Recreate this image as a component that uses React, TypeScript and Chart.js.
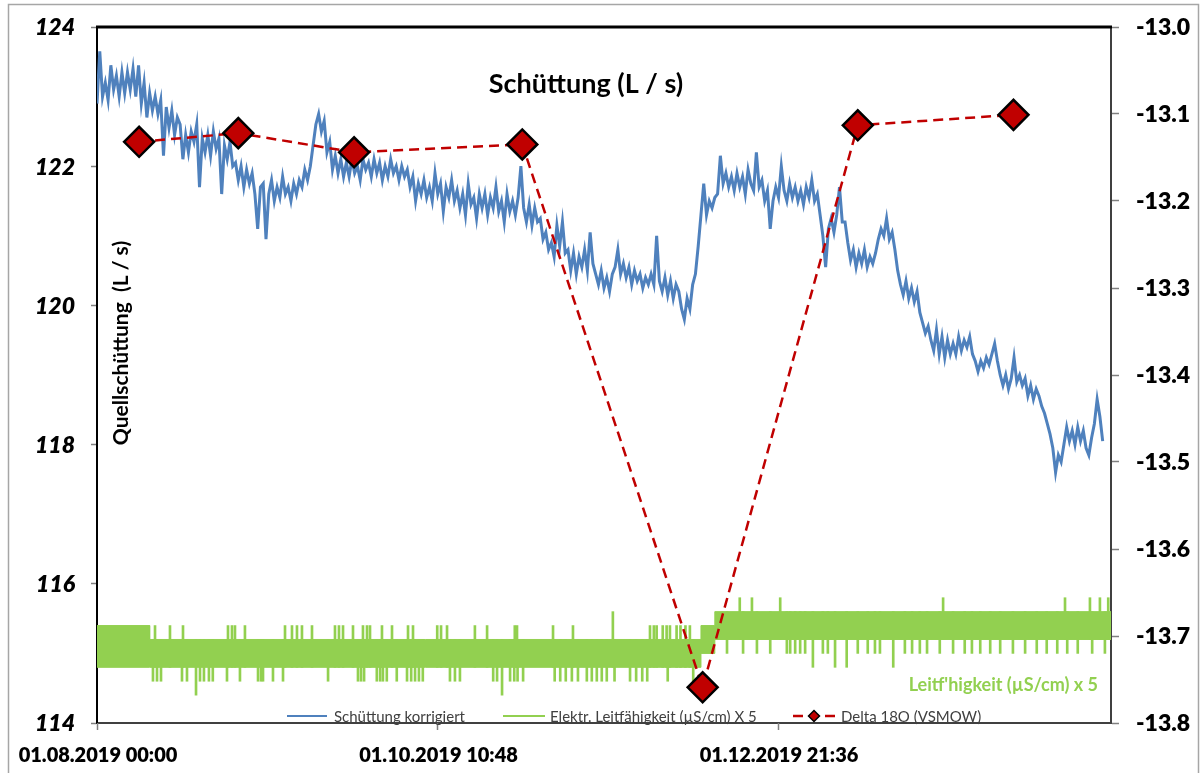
import React, { useEffect, useRef } from 'react';
import { Chart, registerables } from 'chart.js';

Chart.register(...registerables);

const W = 1203;
const H = 773;
const FONT = "Lato, 'Open Sans', sans-serif";

// X axis: days since 01.08.2019 00:00
const xMaxDay = 183;
const xTickDays = [0, 61.45, 122.9];
const xTickLabels = ['01.08.2019 00:00', '01.10.2019 10:48', '01.12.2019 21:36'];

// Left axis (L/s)
const yLeftMin = 114;
const yLeftMax = 124;
const yLeftStep = 2;
// Right axis (Delta 18O)
const yRightMin = -13.8;
const yRightMax = -13.0;
const yRightStep = 0.1;

// Schüttung korrigiert, sampled every half day from 01.08.2019
const blueStartDay = 0;
const blueStepDays = 0.5;
const blueValues = [
  122.9, 123.65, 123.0, 123.2, 122.95, 123.45, 123.1, 123.3, 123.0, 123.35,
  123.05, 123.35, 123.1, 123.4, 123.0, 123.45, 122.9, 123.2, 122.7, 123.05,
  122.8, 123.0, 122.75, 122.95, 122.15, 122.85, 122.55, 122.8, 122.45, 122.7,
  122.6, 122.1, 122.45, 122.2, 122.5, 122.35, 122.6, 121.7, 122.4, 122.2,
  122.45, 122.15, 122.5, 122.25, 122.4, 121.6, 122.3, 122.1, 122.35, 122.0,
  122.05, 121.8, 122.0, 121.7, 121.95, 121.75, 121.9, 121.6, 121.1, 121.7,
  121.75, 120.95, 121.6, 121.8, 121.5, 121.7, 121.55, 121.85, 121.6, 121.7,
  121.5, 121.75, 121.6, 121.8, 121.7, 121.95, 121.8, 122.0, 122.3, 122.6,
  122.75, 122.5, 122.65, 122.2, 122.35, 121.95, 122.15, 121.9, 122.1, 121.85,
  122.05, 121.85, 122.1, 121.9, 122.0, 121.8, 122.1, 121.95, 122.05, 121.85,
  122.1, 121.9, 122.05, 121.8, 122.0, 121.85, 122.1, 121.9, 122.0, 121.8,
  122.0, 121.85, 121.95, 121.7, 121.85, 121.5, 121.75, 121.6, 121.8, 121.55,
  121.7, 121.5, 121.9, 121.6, 121.75, 121.35, 121.7, 121.55, 121.8, 121.5,
  121.65, 121.4, 121.6, 121.3, 121.75, 121.45, 121.55, 121.25, 121.6, 121.4,
  121.6, 121.3, 121.55, 121.4, 121.7, 121.35, 121.5, 121.2, 121.6, 121.35,
  121.5, 121.3, 121.55, 122.0, 121.4, 121.2, 121.45, 121.15, 121.4, 121.2,
  121.25, 120.95, 121.05, 120.8, 120.9, 120.7, 121.15, 120.85, 121.2, 120.75,
  120.8, 120.5, 120.75, 120.45, 120.7, 120.55, 120.8, 120.5, 121.05, 120.6,
  120.45, 120.3, 120.5, 120.25, 120.4, 120.2, 120.45, 120.55, 120.8, 120.45,
  120.6, 120.4, 120.55, 120.3, 120.5, 120.35, 120.45, 120.25, 120.4, 120.3,
  120.45, 120.3, 121.0, 120.35, 120.2, 120.4, 120.15, 120.35, 120.1, 120.3,
  120.2, 119.95, 119.8, 120.1, 119.95, 120.3, 120.45, 120.85, 121.3, 121.75,
  121.3, 121.5, 121.4, 121.55, 121.6, 122.15, 121.75, 121.9, 121.7, 121.85,
  121.65, 121.9, 121.7, 121.85, 121.6, 121.95, 121.75, 121.65, 122.2, 121.7,
  121.8, 121.5, 121.65, 121.1, 121.5, 121.7, 121.55, 122.0, 121.65, 121.5,
  121.75, 121.55, 121.7, 121.5, 121.65, 121.45, 121.7, 121.55, 121.8, 121.5,
  121.6, 121.3, 121.0, 120.55, 121.1, 121.25, 121.05, 121.3, 121.7, 121.2,
  121.2, 120.9, 120.65, 120.8, 120.55, 120.75, 120.6, 120.8, 120.55, 120.7,
  120.6, 120.75, 120.95, 121.1, 121.0, 121.25, 120.95, 121.05, 120.8, 120.5,
  120.3, 120.15, 120.35, 120.1, 120.25, 120.05, 120.2, 119.9, 119.75, 119.6,
  119.7, 119.5, 119.35, 119.65, 119.3, 119.55, 119.25, 119.5, 119.3, 119.45,
  119.3, 119.55, 119.35, 119.5, 119.4, 119.55, 119.3, 119.2, 119.05, 119.2,
  119.1, 119.25, 119.15, 119.3, 119.45, 119.2, 119.0, 118.85, 119.0, 118.8,
  118.95, 119.25, 118.9, 119.0, 118.85, 118.95, 118.7, 118.85, 118.65, 118.8,
  118.7, 118.55, 118.45, 118.3, 118.15, 117.95, 117.6, 117.85, 117.75, 118.0,
  118.25, 118.05, 118.2, 118.0, 118.25, 118.05, 118.2, 117.95, 117.85, 118.1,
  118.3, 118.65, 118.4, 118.05,
];

// Elektr. Leitfähigkeit x 5: usual band (upper / lower envelope)
const greenBandDays = [0, 9.5, 9.5, 109, 109, 111.5, 111.5, 183];
const greenBandHigh = [115.4, 115.4, 115.2, 115.2, 115.4, 115.4, 115.6, 115.6];
const greenBandLow = [114.8, 114.8, 114.8, 114.8, 115.0, 115.0, 115.2, 115.2];

// Elektr. Leitfähigkeit x 5: single readings outside the band
const greenSpikeDays = [
  10.47, 13.17, 15.52, 23.64, 24.36, 24.9, 26.7, 33.93, 35.19, 36.09, 36.99, 38.8, 42.95, 43.67,
  44.4, 46.2, 48.0, 48.73, 49.27, 51.43, 53.24, 56.13, 57.03, 61.4, 62.09, 63.17, 68.2, 70.4,
  75.4, 75.8, 82.3, 85.9, 93.1, 99.8, 100.5, 101.0, 102.1, 102.8, 103.4, 104.6, 105.3, 106.2, 107.0,
  10.1, 10.83, 11.55, 15.34, 16.24, 17.87, 18.59, 19.3, 20.2, 20.9, 23.46, 25.8, 29.06, 29.6,
  29.96, 31.76, 33.57, 41.7, 47.1, 47.65, 48.2, 50.5, 51.1, 51.6, 52.3, 54.1, 55.95, 56.7, 57.4,
  58.1, 58.8, 63.7, 64.6, 65.5, 71.5, 72.2, 73.1, 74.55, 75.3, 75.9, 76.9, 82.6, 83.6, 84.6, 85.7,
  86.8, 88.4, 89.3, 90.2, 91.1, 92.0, 93.4, 96.2, 97.3, 98.4, 99.3, 103.0, 107.6,
  116.0, 118.2, 123.3, 152.7, 174.7, 179.2, 181.0, 182.5,
  113.7, 116.6, 119.1, 121.5, 124.5, 125.1, 126.0, 126.9, 127.8, 129.2, 131.0, 131.9, 133.2, 135.3,
  137.3, 139.1, 140.4, 141.3, 143.7, 145.8, 147.1, 148.5, 149.8, 152.1, 154.5, 156.6, 157.9, 159.4,
  161.2, 163.0, 165.3, 167.5, 169.6, 171.4, 173.3, 175.1, 177.0, 179.6, 181.9,
];
const greenSpikeValues = [
  115.4, 115.4, 115.4, 115.4, 115.4, 115.4, 115.4, 115.4, 115.4, 115.4, 115.4, 115.4, 115.4, 115.4,
  115.4, 115.4, 115.4, 115.4, 115.4, 115.4, 115.4, 115.4, 115.4, 115.4, 115.4, 115.4, 115.4, 115.4,
  115.4, 115.4, 115.4, 115.4, 115.6, 115.4, 115.4, 115.4, 115.4, 115.4, 115.4, 115.4, 115.4, 115.4, 115.4,
  114.6, 114.6, 114.6, 114.6, 114.6, 114.4, 114.6, 114.6, 114.6, 114.6, 114.6, 114.6, 114.6, 114.6,
  114.6, 114.6, 114.6, 114.6, 114.6, 114.6, 114.6, 114.6, 114.6, 114.6, 114.6, 114.6, 114.6, 114.6, 114.6,
  114.6, 114.6, 114.6, 114.6, 114.6, 114.6, 114.6, 114.4, 114.6, 114.6, 114.6, 114.6, 114.6, 114.6, 114.6, 114.6,
  114.6, 114.6, 114.6, 114.6, 114.6, 114.6, 114.6, 114.6, 114.6, 114.6, 114.6, 114.6, 114.6,
  115.8, 115.8, 115.8, 115.8, 115.8, 115.8, 115.8, 115.8,
  115.0, 115.0, 115.0, 115.0, 115.0, 115.0, 115.0, 115.0, 115.0, 114.8, 115.0, 115.0, 114.8, 114.8,
  115.0, 115.0, 115.0, 115.0, 114.8, 115.0, 115.0, 115.0, 115.0, 115.0, 115.0, 115.0, 115.0, 115.0,
  115.0, 115.0, 115.0, 115.0, 115.0, 115.0, 115.0, 115.0, 115.0, 115.0, 115.0,
];

// Delta 18O (VSMOW)
const deltaDays = [7.6, 25.5, 46.4, 76.75, 109.3, 137.3, 165.4];
const deltaValues = [-13.132, -13.122, -13.144, -13.135, -13.759, -13.113, -13.101];

const BLUE = '#4F81BD';
const GREEN = '#92D050';
const RED = '#C00000';

function bandAt(day: number) {
  let k = 0;
  for (let i = 0; i < greenBandDays.length; i++) {
    if (greenBandDays[i] <= day) k = i;
  }
  return { low: greenBandLow[k], high: greenBandHigh[k] };
}

const decorPlugin = {
  id: 'decor',
  beforeDraw(chart: any) {
    const ctx = chart.ctx;
    ctx.save();
    ctx.fillStyle = '#ffffff';
    ctx.fillRect(0, 0, W, H);
    ctx.strokeStyle = '#a6a6a6';
    ctx.lineWidth = 1.5;
    ctx.strokeRect(8.5, 4.5, 1190, 800);
    ctx.restore();
  },
  afterDraw(chart: any) {
    const ctx = chart.ctx;
    const a = chart.chartArea;
    const sx = chart.scales.x;
    const sy = chart.scales.y;
    const sy2 = chart.scales.y2;
    ctx.save();
    // top edge of plot area
    ctx.strokeStyle = '#000';
    ctx.lineWidth = 3;
    ctx.beginPath();
    ctx.moveTo(a.left - 1, a.top);
    ctx.lineTo(a.right + 1, a.top);
    ctx.stroke();

    // x tick marks
    ctx.strokeStyle = '#808080';
    ctx.lineWidth = 1.5;
    xTickDays.forEach((d) => {
      const px = Math.round(sx.getPixelForValue(d)) + 0.5;
      ctx.beginPath();
      ctx.moveTo(px, a.bottom);
      ctx.lineTo(px, a.bottom + 7);
      ctx.stroke();
    });

    // axis tick labels, placed through the scales
    ctx.fillStyle = '#000';
    ctx.textBaseline = 'middle';
    ctx.font = `italic 800 23px ${FONT}`;
    ctx.textAlign = 'right';
    sy.ticks.forEach((t: any) => {
      ctx.fillText(String(Math.round(t.value)), a.left - 22, sy.getPixelForValue(t.value) + 1);
    });
    ctx.font = `800 23px ${FONT}`;
    ctx.textAlign = 'left';
    sy2.ticks.forEach((t: any) => {
      ctx.fillText(Number(t.value).toFixed(1), a.right + 25, sy2.getPixelForValue(t.value) + 1);
    });
    ctx.font = `800 20px ${FONT}`;
    ctx.textAlign = 'center';
    ctx.textBaseline = 'alphabetic';
    xTickDays.forEach((d, i) => {
      ctx.fillText(xTickLabels[i], sx.getPixelForValue(d) + 1, a.bottom + 39);
    });

    // title
    ctx.textAlign = 'center';
    ctx.font = `bold 27px ${FONT}`;
    ctx.fillText('Schüttung (L / s)', 586, 93);

    // left axis title (inside plot)
    ctx.save();
    ctx.translate(128, 343);
    ctx.rotate(-Math.PI / 2);
    ctx.font = `bold 21px ${FONT}`;
    ctx.textAlign = 'center';
    ctx.fillText('Quellschüttung  (L / s)', 0, 0);
    ctx.restore();

    // green note
    ctx.fillStyle = GREEN;
    ctx.font = `bold 18px ${FONT}`;
    ctx.textAlign = 'right';
    ctx.fillText("Leitf'higkeit (µS/cm) x 5", 1098, 691);

    // legend
    const ly = 716;
    ctx.font = `15px ${FONT}`;
    ctx.textAlign = 'left';
    ctx.textBaseline = 'middle';
    ctx.lineWidth = 2;
    ctx.strokeStyle = BLUE;
    ctx.beginPath(); ctx.moveTo(287, ly); ctx.lineTo(327, ly); ctx.stroke();
    ctx.fillStyle = '#404040';
    ctx.fillText('Schüttung korrigiert', 334, ly + 1);
    ctx.strokeStyle = GREEN;
    ctx.beginPath(); ctx.moveTo(503, ly); ctx.lineTo(545, ly); ctx.stroke();
    ctx.fillText('Elektr. Leitfähigkeit (µS/cm) X 5', 550, ly + 1);
    ctx.strokeStyle = RED;
    ctx.lineWidth = 2.5;
    ctx.setLineDash([10, 6]);
    ctx.beginPath(); ctx.moveTo(793, ly); ctx.lineTo(836, ly); ctx.stroke();
    ctx.setLineDash([]);
    ctx.fillStyle = RED;
    ctx.strokeStyle = '#000';
    ctx.lineWidth = 1.5;
    ctx.beginPath();
    ctx.moveTo(814 - 5.5, ly); ctx.lineTo(814, ly - 5.5); ctx.lineTo(814 + 5.5, ly); ctx.lineTo(814, ly + 5.5);
    ctx.closePath(); ctx.fill(); ctx.stroke();
    ctx.fillStyle = '#404040';
    ctx.fillText('Delta 18O (VSMOW)', 841, ly + 1);
    ctx.restore();
  },
};

export default function App() {
  const ref = useRef<HTMLCanvasElement | null>(null);

  useEffect(() => {
    if (!ref.current) return;
    Chart.defaults.font.family = FONT;

    const blueData = blueValues.map((v, i) => ({ x: blueStartDay + i * blueStepDays, y: v }));
    const bandHigh = greenBandDays.map((d, i) => ({ x: d, y: greenBandHigh[i] }));
    const bandLow = greenBandDays.map((d, i) => ({ x: d, y: greenBandLow[i] }));
    const spikes = greenSpikeDays.map((d, i) => {
      const b = bandAt(d);
      const v = greenSpikeValues[i];
      return { x: d, y: v > b.high ? [b.low, v] : [v, b.high] };
    });
    const delta = deltaDays.map((d, i) => ({ x: d, y: deltaValues[i] }));

    const gridOpts = (len: number, ticks: boolean) => ({
      drawOnChartArea: false,
      drawTicks: ticks,
      offset: false,
      tickLength: len,
      tickColor: '#808080',
      tickWidth: 1.5,
    });

    const chart = new Chart(ref.current, {
      type: 'line',
      data: {
        datasets: [
          {
            label: 'Delta 18O (VSMOW)',
            data: delta,
            yAxisID: 'y2',
            borderColor: RED,
            borderWidth: 2.5,
            borderDash: [10, 6],
            pointStyle: 'rectRot',
            pointRadius: 15,
            pointBorderWidth: 2.5,
            pointBorderColor: '#000',
            pointBackgroundColor: RED,
            tension: 0,
            fill: false,
            order: 0,
          } as any,
          {
            label: 'Schüttung korrigiert',
            data: blueData,
            yAxisID: 'y',
            borderColor: BLUE,
            borderWidth: 3,
            borderJoinStyle: 'miter',
            pointRadius: 0,
            tension: 0,
            fill: false,
            order: 1,
          } as any,
          {
            label: 'Elektr. Leitfähigkeit (µS/cm) X 5',
            data: bandHigh,
            yAxisID: 'y',
            borderColor: GREEN,
            borderWidth: 1,
            backgroundColor: GREEN,
            pointRadius: 0,
            tension: 0,
            fill: '+1',
            order: 2,
          },
          {
            label: 'band low',
            data: bandLow,
            yAxisID: 'y',
            borderColor: GREEN,
            borderWidth: 1,
            pointRadius: 0,
            tension: 0,
            fill: false,
            order: 3,
          },
          {
            type: 'bar',
            label: 'spikes',
            data: spikes,
            yAxisID: 'y',
            backgroundColor: GREEN,
            borderWidth: 0,
            barThickness: 2,
            order: 4,
          } as any,
        ],
      },
      options: {
        responsive: false,
        animation: false,
        devicePixelRatio: 1,
        events: [],
        layout: { padding: { top: 27, left: 0, right: 0, bottom: 0 } },
        plugins: {
          legend: { display: false },
          tooltip: { enabled: false },
          title: { display: false },
        },
        scales: {
          x: {
            type: 'linear',
            min: 0,
            max: xMaxDay,
            offset: false,
            afterFit: (s: any) => { s.height = 50; },
            afterBuildTicks: (s: any) => { s.ticks = xTickDays.map((v) => ({ value: v })); },
            ticks: { display: false, autoSkip: false },
            grid: gridOpts(6, false),
            border: { display: true, color: '#404040', width: 2 },
          } as any,
          y: {
            type: 'linear',
            position: 'left',
            min: yLeftMin,
            max: yLeftMax,
            afterFit: (s: any) => { s.width = 97; },
            ticks: { display: false, stepSize: yLeftStep },
            grid: gridOpts(6, true),
            border: { display: true, color: '#000', width: 2 },
          } as any,
          y2: {
            type: 'linear',
            position: 'right',
            min: yRightMin,
            max: yRightMax,
            afterFit: (s: any) => { s.width = W - 1111; },
            ticks: { display: false, stepSize: yRightStep },
            grid: gridOpts(8, true),
            border: { display: true, color: '#404040', width: 2 },
          } as any,
        },
      },
      plugins: [decorPlugin],
    });
    return () => chart.destroy();
  }, []);

  return (
    <div style={{ position: 'fixed', left: 0, top: 0, width: W, height: H, background: '#fff' }}>
      <canvas ref={ref} width={W} height={H} style={{ width: W, height: H, display: 'block' }} />
    </div>
  );
}
